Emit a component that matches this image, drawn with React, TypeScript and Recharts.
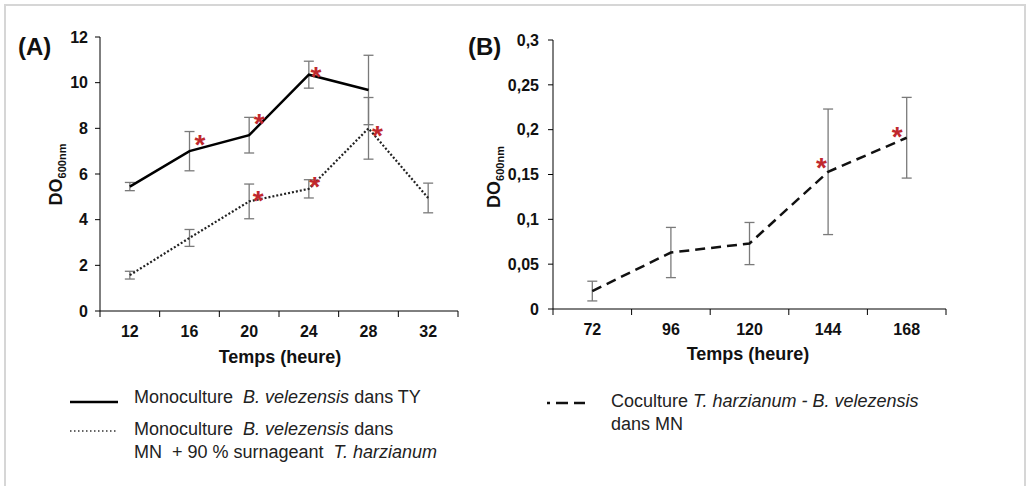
import { ErrorBar, Line, LineChart, XAxis, YAxis } from 'recharts'

// panel A : heures, DO600 et ecarts-types
const hoursA = [12, 16, 20, 24, 28, 32]
const monoTY = [5.45, 7.0, 7.7, 10.35, 9.68]
const monoTYErr = [0.18, 0.86, 0.78, 0.59, 1.52]
const monoMN = [1.57, 3.2, 4.8, 5.35, 8.0, 4.95]
const monoMNErr = [0.17, 0.37, 0.76, 0.4, 1.35, 0.65]
const starTYx = [16.7, 20.68, 24.48]
const starTYy = [7.56, 8.48, 10.56]
const starMNx = [20.6, 24.4, 28.6]
const starMNy = [5.12, 5.74, 7.96]
const yTicksA = [0, 2, 4, 6, 8, 10, 12]
const xMarksA = [10, 14, 18, 22, 26, 30, 34]

// panel B
const hoursB = [72, 96, 120, 144, 168]
const cocult = [0.02, 0.063, 0.073, 0.153, 0.191]
const cocultErr = [0.011, 0.028, 0.0235, 0.07, 0.045]
const starBx = [142, 165.1]
const starBy = [0.165, 0.2]
const yTicksB = [0, 0.05, 0.1, 0.15, 0.2, 0.25, 0.3]
const xMarksB = [60, 84, 108, 132, 156, 180]

const FONT = "'Liberation Sans', Arial, sans-serif"

const rows = (xs: number[], vs: number[], es?: number[]) =>
  vs.map((v, i) => ({ t: xs[i], v, e: es ? es[i] : 0 }))

const tyData = rows(hoursA, monoTY, monoTYErr)
const mnData = rows(hoursA, monoMN, monoMNErr)
const starTY = rows(starTYx, starTYy)
const starMN = rows(starMNx, starMNy)
const coData = rows(hoursB, cocult, cocultErr)
const starB = rows(starBx, starBy)

const renderStar = (p: any) => {
  if (p.cx == null || p.cy == null) return <g key={p.index} />
  return (
    <text key={p.index} x={p.cx} y={p.cy + 16} textAnchor="middle" fontSize={28} fontWeight="bold" fill="#c0282d" fontFamily={FONT}>
      *
    </text>
  )
}

// tick labels on the categories, tick marks between them (Excel style)
const makeTick = (labels: number[]) => (p: any) => {
  const axisY = p.y - 10
  if (labels.includes(p.payload.value)) {
    return (
      <text x={p.x} y={axisY + 26} textAnchor="middle" fontSize={16} fontWeight="bold" fill="#111" fontFamily={FONT}>
        {p.payload.value}
      </text>
    )
  }
  return <line x1={p.x} x2={p.x} y1={axisY} y2={axisY + 6} stroke="#000" />
}

const errStyle = { stroke: '#7a7a7a', strokeWidth: 1.3 }
const yTick = { fontSize: 16, fontWeight: 'bold', fill: '#111', fontFamily: FONT }

function PanelA() {
  return (
    <LineChart width={480} height={380} margin={{ top: 37, right: 22, bottom: 0, left: 0 }}>
      <XAxis
        type="number"
        dataKey="t"
        domain={[10, 34]}
        ticks={[...xMarksA, ...hoursA].sort((a, b) => a - b)}
        interval={0}
        tickSize={6}
        tickMargin={4}
        tickLine={false}
        tick={makeTick(hoursA)}
        height={69}
        axisLine={{ stroke: '#000' }}
      />
      <YAxis
        domain={[0, 12]}
        ticks={yTicksA}
        interval={0}
        tickSize={5}
        tickMargin={7}
        width={100}
        tick={yTick}
        axisLine={{ stroke: '#000' }}
        tickLine={{ stroke: '#000' }}
      />
      <Line data={tyData} dataKey="v" stroke="#000" strokeWidth={2.5} dot={false} isAnimationActive={false}>
        <ErrorBar dataKey="e" direction="y" width={5} {...errStyle} />
      </Line>
      <Line data={mnData} dataKey="v" stroke="#222" strokeWidth={2.2} strokeDasharray="2 2" dot={false} isAnimationActive={false}>
        <ErrorBar dataKey="e" direction="y" width={5} {...errStyle} />
      </Line>
      <Line data={starTY} dataKey="v" stroke="none" dot={renderStar} activeDot={false} isAnimationActive={false} />
      <Line data={starMN} dataKey="v" stroke="none" dot={renderStar} activeDot={false} isAnimationActive={false} />
    </LineChart>
  )
}

function PanelB() {
  return (
    <LineChart width={530} height={380} margin={{ top: 40, right: 24, bottom: 0, left: 0 }}>
      <XAxis
        type="number"
        dataKey="t"
        domain={[60, 180]}
        ticks={[...xMarksB, ...hoursB].sort((a, b) => a - b)}
        interval={0}
        tickSize={6}
        tickMargin={4}
        tickLine={false}
        tick={makeTick(hoursB)}
        height={71}
        axisLine={{ stroke: '#000' }}
      />
      <YAxis
        domain={[0, 0.3]}
        ticks={yTicksB}
        interval={0}
        tickSize={5}
        tickMargin={9}
        width={113}
        tick={yTick}
        tickFormatter={(v: number) => String(v).replace('.', ',')}
        axisLine={{ stroke: '#000' }}
        tickLine={{ stroke: '#000' }}
      />
      <Line data={coData} dataKey="v" stroke="#111" strokeWidth={2.5} strokeDasharray="10 6" dot={false} isAnimationActive={false}>
        <ErrorBar dataKey="e" direction="y" width={5} {...errStyle} />
      </Line>
      <Line data={starB} dataKey="v" stroke="none" dot={renderStar} activeDot={false} isAnimationActive={false} />
    </LineChart>
  )
}

const legendText: React.CSSProperties = {
  position: 'absolute',
  fontFamily: FONT,
  fontSize: 18,
  lineHeight: '23px',
  color: '#222',
  whiteSpace: 'pre',
}

export default function App() {
  return (
    <div style={{ position: 'absolute', left: 0, top: 0, width: 1027, height: 486, background: '#fff', overflow: 'hidden', fontFamily: FONT }}>
      <div style={{ position: 'absolute', left: 4, top: 4, width: 1022, height: 500, border: '2px solid #d6d6d6', boxSizing: 'border-box' }} />
      <div style={{ position: 'absolute', left: 0, top: 0 }}>
        <PanelA />
      </div>
      <div style={{ position: 'absolute', left: 440, top: 0 }}>
        <PanelB />
      </div>
      <svg width={1027} height={486} style={{ position: 'absolute', left: 0, top: 0, pointerEvents: 'none' }}>
        <g fontFamily={FONT} fill="#111" fontWeight="bold">
          <text x={18} y={55} fontSize={24}>(A)</text>
          <text x={468} y={55} fontSize={24}>(B)</text>
          <text x={280} y={363} fontSize={18} textAnchor="middle">Temps (heure)</text>
          <text x={748} y={360} fontSize={18} textAnchor="middle">Temps (heure)</text>
          <text x={62} y={174.5} textAnchor="middle" transform="rotate(-90 62 174.5)">
            <tspan fontSize={18}>DO</tspan>
            <tspan fontSize={11} dy={4}>600nm</tspan>
          </text>
          <text x={500} y={177} textAnchor="middle" transform="rotate(-90 500 177)">
            <tspan fontSize={18}>DO</tspan>
            <tspan fontSize={11} dy={4}>600nm</tspan>
          </text>
        </g>
        <line x1={70} x2={118} y1={402} y2={402} stroke="#000" strokeWidth={2.5} />
        <line x1={70} x2={117} y1={431} y2={431} stroke="#333" strokeWidth={1.5} strokeDasharray="1.5 2.5" />
        <line x1={547} x2={585} y1={403} y2={403} stroke="#111" strokeWidth={2.5} strokeDasharray="12 6" strokeDashoffset={9} />
      </svg>
      <div style={{ ...legendText, left: 134, top: 386 }}>
        {'Monoculture  '}<i>B. velezensis</i>{' dans TY'}
      </div>
      <div style={{ ...legendText, left: 134, top: 418 }}>
        {'Monoculture  '}<i>B. velezensis</i>{' dans'}
      </div>
      <div style={{ ...legendText, left: 134, top: 441 }}>
        {'MN  + 90 % surnageant  '}<i>T. harzianum</i>
      </div>
      <div style={{ ...legendText, left: 611, top: 390 }}>
        {'Coculture '}<i>T. harzianum - B. velezensis</i>
      </div>
      <div style={{ ...legendText, left: 611, top: 413 }}>dans MN</div>
    </div>
  )
}
